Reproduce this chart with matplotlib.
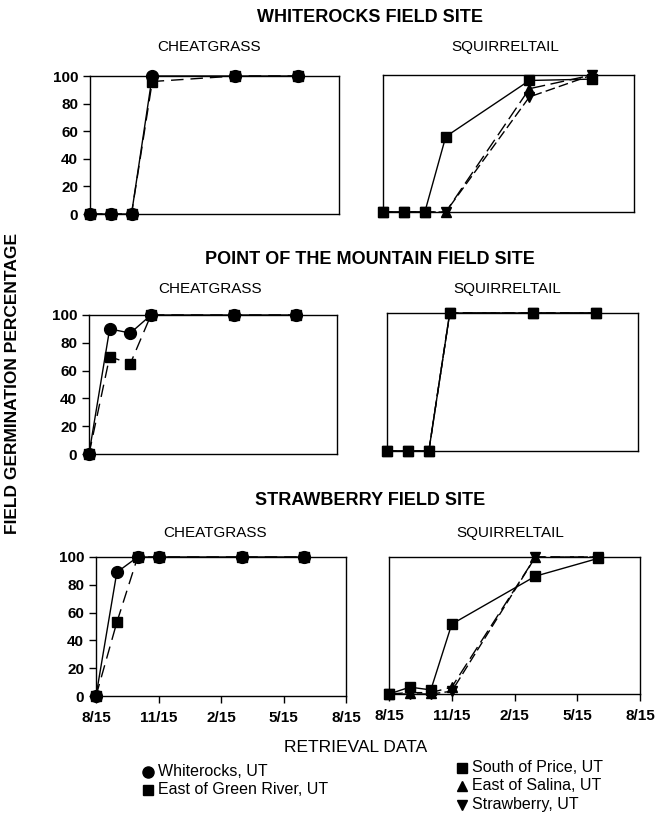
import matplotlib
matplotlib.use("Agg")
import matplotlib.pyplot as plt
from matplotlib.lines import Line2D

plt.rcParams['font.family'] = ['Liberation Sans', 'DejaVu Sans']

W, H = 659, 823

months = [0, 1, 2, 3, 7, 10]
xtick_pos = [0, 3, 6, 9, 12]
xtick_labels = ["8/15", "11/15", "2/15", "5/15", "8/15"]
ytick_pos = [0, 20, 40, 60, 80, 100]

site_titles = ["WHITEROCKS FIELD SITE", "POINT OF THE MOUNTAIN FIELD SITE", "STRAWBERRY FIELD SITE"]
species = ["CHEATGRASS", "SQUIRRELTAIL"]

# Cheatgrass: Whiterocks (circle), East of Green River (square)
ct_whiterocks = [[0, 0, 0, 100, 100, 100],
                 [0, 90, 87, 100, 100, 100],
                 [0, 89, 100, 100, 100, 100]]
ct_greenriver = [[0, 0, 0, 96, 100, 100],
                 [0, 70, 65, 100, 100, 100],
                 [0, 53, 100, 100, 100, 100]]
# Squirreltail: South of Price (square), East of Salina (up tri), Strawberry (down tri)
sq_price = [[0, 0, 0, 55, 96, 97],
            [0, 0, 0, 100, 100, 100],
            [0, 5, 3, 51, 86, 99]]
sq_salina = [[0, 0, 0, 0, 90, 100],
             [0, 0, 0, 100, 100, 100],
             [0, 1, 1, 5, 100, 100]]
sq_strawberry = [[0, 0, 0, 0, 84, 100],
                 [0, 0, 0, 100, 100, 100],
                 [0, 0, 0, 2, 100, 100]]

# axes boxes in pixels: (left, right, top, bottom)
boxes = [
    [(90, 339, 76, 214), (383, 634, 75, 212)],
    [(89, 337, 315, 454), (387, 638, 313, 451)],
    [(96, 346, 557, 696), (389, 640, 557, 694)],
]
title_y = [18, 260, 500]
sub_y = [47, 289, 533]
sub_x = [[209, 505], [210, 507], [215, 510]]

fig = plt.figure(figsize=(W / 100, H / 100), dpi=100)

def fx(px):
    return px / W

def fy(py):
    return 1 - py / H

lw = 1.0
for r in range(3):
    fig.text(fx(370), fy(title_y[r]), site_titles[r], ha='center', va='center',
             fontsize=13, fontweight='bold')
    for c in range(2):
        l, rr, t, b = boxes[r][c]
        ax = fig.add_axes([fx(l), fy(b), fx(rr) - fx(l), (b - t) / H])
        ax.set_xlim(0, 12)
        ax.set_ylim(0, 100)
        for s in ax.spines.values():
            s.set_linewidth(1.0)
        ax.tick_params(direction='out', length=5, width=1.0, labelsize=11)
        if c == 0:
            ax.plot(months, ct_greenriver[r], color='black', lw=lw, ls=(0, (9, 5)),
                    marker='s', ms=7.5, clip_on=False, zorder=3)
            ax.plot(months, ct_whiterocks[r], color='black', lw=lw, ls='-',
                    marker='o', ms=8.5, clip_on=False, zorder=4)
            ax.set_yticks(ytick_pos)
            ax.set_yticklabels([str(v) for v in ytick_pos], fontweight='bold')
        else:
            ax.plot(months, sq_salina[r], color='black', lw=lw, ls=(0, (10, 4)),
                    marker='^', ms=7.5, clip_on=False, zorder=3)
            ax.plot(months, sq_strawberry[r], color='black', lw=lw, ls=(0, (7, 3)),
                    marker='v', ms=7.5, clip_on=False, zorder=3)
            ax.plot(months, sq_price[r], color='black', lw=lw, ls='-',
                    marker='s', ms=7.5, clip_on=False, zorder=4)
            ax.set_yticks([])
        if r == 2:
            ax.set_xticks(xtick_pos)
            ax.set_xticklabels(xtick_labels, fontweight='bold')
            ax.tick_params(axis='x', pad=6)
        else:
            ax.set_xticks([])
        fig.text(fx(sub_x[r][c]), fy(sub_y[r]), species[c], ha='center', va='center',
                 fontsize=11)

fig.text(fx(13), fy(383), "FIELD GERMINATION PERCENTAGE", rotation=90, ha='center',
         va='center', fontsize=12.5, fontweight='bold')
fig.text(fx(356), fy(747), "RETRIEVAL DATA", ha='center', va='center', fontsize=12.5)

legend_items = [
    (148, 772, 'o', "Whiterocks, UT"),
    (148, 790, 's', "East of Green River, UT"),
    (462, 768, 's', "South of Price, UT"),
    (462, 786, '^', "East of Salina, UT"),
    (462, 805, 'v', "Strawberry, UT"),
]
for x, y, m, txt in legend_items:
    fig.add_artist(Line2D([fx(x)], [fy(y)], marker=m, color='black', ms=7 if m != 'o' else 8,
                          ls='none', transform=fig.transFigure))
    fig.text(fx(x + 10), fy(y), txt, ha='left', va='center', fontsize=11.5)

fig.savefig("out.png", dpi=100)
